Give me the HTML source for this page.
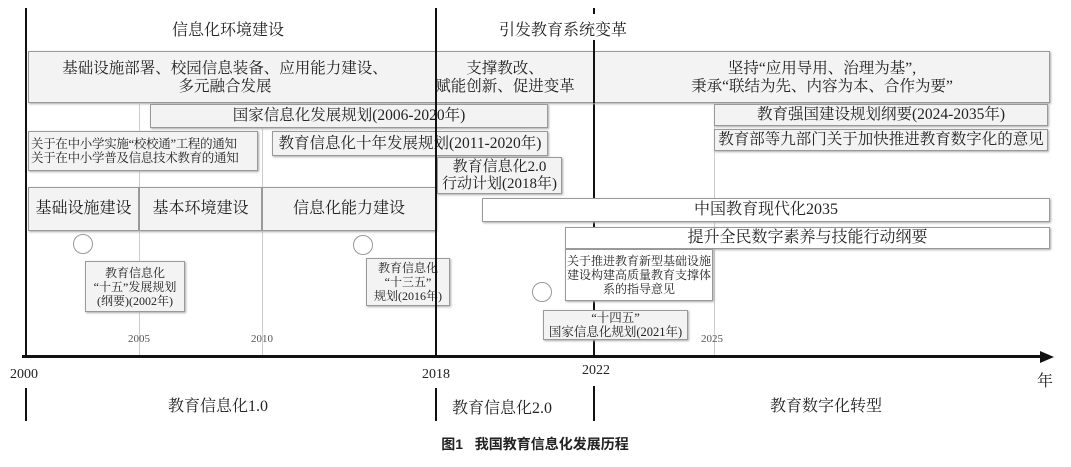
<!DOCTYPE html>
<html><head><meta charset="utf-8"><style>
body{margin:0;width:1071px;height:467px;background:#fff;position:relative;overflow:hidden;font-family:"Liberation Serif","Noto Serif CJK SC",serif;color:#222}
.a{position:absolute}
.b{position:absolute;background:#f3f3f3;border:1px solid #999;box-sizing:border-box;display:flex;align-items:center;justify-content:center;text-align:center;line-height:1.15;box-shadow:1px 1px 2px #aaa}
.v{position:absolute;width:2px;background:#111}
.g{position:absolute;width:1px;background:#ccc}
.t{position:absolute;white-space:nowrap;transform:translateX(-50%)}
.c{position:absolute;width:20px;height:20px;border:1px solid #999;border-radius:50%;box-sizing:border-box;background:#fff}
</style></head><body>
<div class="g" style="left:139px;top:104px;height:252px"></div>
<div class="g" style="left:262px;top:104px;height:252px"></div>
<div class="g" style="left:714px;top:104px;height:252px"></div>
<div class="v" style="left:593px;top:8px;height:6px"></div>
<div class="v" style="left:593px;top:40px;height:317px"></div>

<div class="t" style="left:228px;top:17px;font-size:16px">信息化环境建设</div>
<div class="t" style="left:563px;top:17px;font-size:16px">引发教育系统变革</div>

<div class="b" style="left:28px;top:51px;width:1022px;height:52px"></div>
<div class="t" style="left:225px;top:60px;font-size:15.5px;text-align:center;line-height:18px">基础设施部署、校园信息装备、应用能力建设、<br>多元融合发展</div>
<div class="t" style="left:505px;top:60px;font-size:15.5px;text-align:center;line-height:18px">支撑教改、<br>赋能创新、促进变革</div>
<div class="t" style="left:822px;top:60px;font-size:15.5px;text-align:center;line-height:18px">坚持“应用导用、治理为基”,<br>秉承“联结为先、内容为本、合作为要”</div>
<div class="v" style="left:593px;top:51px;height:52px"></div>

<div class="b" style="left:150px;top:104px;width:398px;height:24px;font-size:15.5px">国家信息化发展规划(2006-2020年)</div>
<div class="b" style="left:28px;top:131px;width:230px;height:40px;font-size:12.5px;text-align:left;justify-content:flex-start;padding-left:2px;letter-spacing:-0.3px">关于在中小学实施“校校通”工程的通知<br>关于在中小学普及信息技术教育的通知</div>
<div class="b" style="left:272px;top:131px;width:276px;height:25px;font-size:15.5px">教育信息化十年发展规划(2011-2020年)</div>
<div class="b" style="left:437px;top:157px;width:125px;height:37px;font-size:15px;line-height:17px">教育信息化2.0<br>行动计划(2018年)</div>
<div class="b" style="left:28px;top:187px;width:111px;height:44px;font-size:16px">基础设施建设</div>
<div class="b" style="left:139px;top:187px;width:123px;height:44px;font-size:16px">基本环境建设</div>
<div class="b" style="left:262px;top:187px;width:174px;height:44px;font-size:16px">信息化能力建设</div>

<div class="b" style="left:714px;top:104px;width:334px;height:22px;font-size:15.5px">教育强国建设规划纲要(2024-2035年)</div>
<div class="b" style="left:714px;top:129px;width:334px;height:22px;font-size:15.5px">教育部等九部门关于加快推进教育数字化的意见</div>
<div class="b" style="left:482px;top:198px;width:568px;height:24px;font-size:16px;background:#fff">中国教育现代化2035</div>
<div class="b" style="left:565px;top:227px;width:485px;height:22px;font-size:16px;background:#fff">提升全民数字素养与技能行动纲要</div>
<div class="b" style="left:565px;top:249px;width:148px;height:52px;font-size:12px;line-height:14px;background:#fff">关于推进教育新型基础设施建设构建高质量教育支撑体系的指导意见</div>
<div class="b" style="left:543px;top:310px;width:145px;height:30px;font-size:12.5px;line-height:14px">“十四五”<br>国家信息化规划(2021年)</div>
<div class="b" style="left:85px;top:261px;width:100px;height:51px;font-size:12px;line-height:14px">教育信息化<br>“十五”发展规划<br>(纲要)(2002年)</div>
<div class="b" style="left:366px;top:258px;width:84px;height:48px;font-size:12px;line-height:14px">教育信息化<br>“十三五”<br>规划(2016年)</div>

<div class="c" style="left:73px;top:234px"></div>
<div class="c" style="left:353px;top:235px"></div>
<div class="c" style="left:532px;top:282px"></div>

<div class="v" style="left:25px;top:8px;height:349px"></div>
<div class="v" style="left:435px;top:8px;height:349px"></div>

<div class="a" style="left:22px;top:355px;width:1022px;height:3px;background:#111"></div>
<svg class="a" style="left:1040px;top:350px" width="14" height="14"><polygon points="0,1 14,7 0,13" fill="#111"/></svg>

<div class="t" style="left:139px;top:333px;font-size:11px;color:#555">2005</div>
<div class="t" style="left:262px;top:333px;font-size:11px;color:#555">2010</div>
<div class="t" style="left:712px;top:333px;font-size:11px;color:#555">2025</div>

<div class="t" style="left:24px;top:367px;font-size:14px">2000</div>
<div class="t" style="left:436px;top:367px;font-size:14px">2018</div>
<div class="t" style="left:596px;top:363px;font-size:14px">2022</div>
<div class="t" style="left:1045px;top:368px;font-size:16px">年</div>

<div class="v" style="left:25px;top:388px;height:33px"></div>
<div class="v" style="left:435px;top:388px;height:33px"></div>
<div class="v" style="left:593px;top:386px;height:35px"></div>
<div class="t" style="left:218px;top:393px;font-size:16px">教育信息化1.0</div>
<div class="t" style="left:502px;top:395px;font-size:16px">教育信息化2.0</div>
<div class="t" style="left:826px;top:393px;font-size:16px">教育数字化转型</div>

<div class="t" style="left:535px;top:434px;font-size:14px;font-weight:bold;font-family:'Liberation Sans','Noto Sans CJK SC',sans-serif">图1&nbsp;&nbsp;&nbsp;我国教育信息化发展历程</div>
</body></html>
